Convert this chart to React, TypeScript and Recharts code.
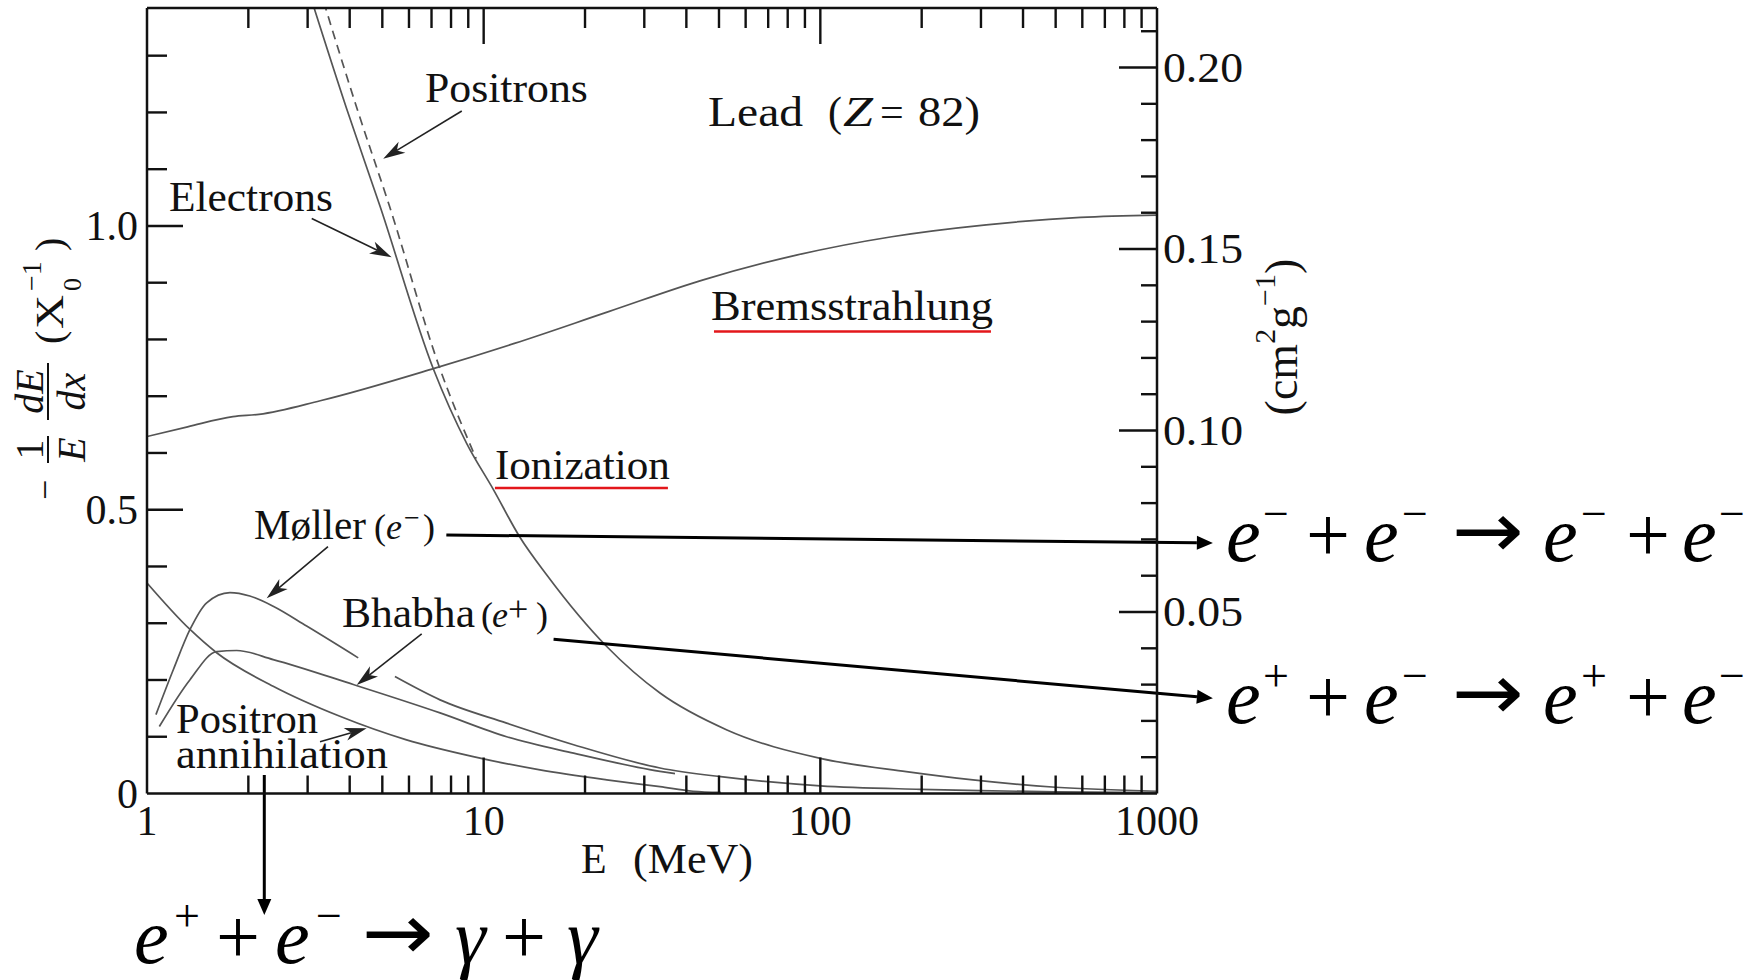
import React from 'react';
import { LineChart, Line, XAxis, YAxis, ReferenceDot, ReferenceLine } from 'recharts';

// ---------------- data (E in MeV, value in X0^-1) ----------------
const ionElectronE = [3.0, 3.92, 4.92, 7.09, 8.9, 10.7, 12.8, 15.4, 23.2, 33.4, 52.8, 100, 180, 284, 500, 1000];
const ionElectronV = [1.42, 1.206, 1.035, 0.748, 0.617, 0.535, 0.452, 0.385, 0.259, 0.177, 0.112, 0.062, 0.0385, 0.024, 0.011, 0.004];

const ionPositronE = [3.25, 4.21, 5.25, 7.42, 9.5];
const ionPositronV = [1.42, 1.206, 1.035, 0.748, 0.59];

const bremE = [1, 1.32, 1.8, 2.15, 3.27, 7.13, 12.34, 23.5, 44.9, 85.5, 163, 311, 593, 1000];
const bremV = [0.629, 0.646, 0.664, 0.668, 0.692, 0.749, 0.793, 0.849, 0.905, 0.949, 0.981, 1.002, 1.015, 1.019];

const mollerE = [1.063, 1.197, 1.342, 1.504, 1.764, 2.02, 2.37, 2.98, 4.24, 4.8, 5.45, 7.42, 11.7, 18.5, 33.4, 50.6, 100, 198, 297, 500, 1000];
const mollerV: (number | null)[] = [0.139, 0.218, 0.289, 0.336, 0.354, 0.348, 0.33, 0.295, 0.239, null, 0.206, 0.165, 0.124, 0.086, 0.045, 0.0296, 0.0135, 0.0074, 0.005, 0.003, 0.0015];

const bhabhaE = [1.088, 1.342, 1.61, 1.846, 2.37, 4.1, 7.42, 11.7, 18.5, 33.4, 37];
const bhabhaV = [0.118, 0.2005, 0.25, 0.252, 0.236, 0.192, 0.142, 0.1, 0.071, 0.039, 0.035];

const annihE = [1, 1.342, 1.61, 2.37, 3.74, 5.9, 9.31, 14.7, 23.2, 33.4, 41.9, 50.6];
const annihV = [0.371, 0.289, 0.248, 0.189, 0.136, 0.0945, 0.065, 0.0415, 0.024, 0.012, 0.004, 0.002];

// axes
const X_DOMAIN: [number, number] = [1, 1000];
const xTicks = [1, 2, 3, 4, 5, 6, 7, 8, 9, 10, 20, 30, 40, 50, 60, 70, 80, 90, 100, 200, 300, 400, 500, 600, 700, 800, 900, 1000];
const LEFT_DOMAIN: [number, number] = [0, 1.384];
const leftTicks = [0, 0.1, 0.2, 0.3, 0.4, 0.5, 0.6, 0.7, 0.8, 0.9, 1.0, 1.1, 1.2, 1.3];
const RIGHT_DOMAIN: [number, number] = [0, 0.2164];
const rightTicks = [0.01, 0.02, 0.03, 0.04, 0.05, 0.06, 0.07, 0.08, 0.09, 0.1, 0.11, 0.12, 0.13, 0.14, 0.15, 0.16, 0.17, 0.18, 0.19, 0.2, 0.21];

type Pt = { E: number; v: number | null };
const zip = (es: number[], vs: (number | null)[]): Pt[] => es.map((E, i) => ({ E, v: vs[i] }));

const electrons = zip(ionElectronE, ionElectronV);
const positrons = zip(ionPositronE, ionPositronV);
const brems = zip(bremE, bremV);
const moller = zip(mollerE, mollerV);
const bhabha = zip(bhabhaE, bhabhaV);
const annihilation = zip(annihE, annihV);

// ---------------- style / layout ----------------
const SERIF = '"Liberation Serif", "Times New Roman", Times, serif';
const ARROW_FONT = '"DejaVu Sans", sans-serif';
const INK = '#111111';
const CURVE = '#555555';
const RED = '#e3171b';
const AXIS_SIZE = 1;
const MARGIN = { top: 8 - AXIS_SIZE, right: 603 - AXIS_SIZE, bottom: 186.5 - AXIS_SIZE, left: 147 - AXIS_SIZE };
const AXIS_W = 2.5;
const TICK_W = 2.4;
const MAJOR = 36;
const MINOR = 18;

const isDecade = (v: number) => Math.abs(Math.log10(v) - Math.round(Math.log10(v))) < 1e-9;

function BottomTick(p: any) {
  const { x, y, payload } = p;
  const v = Number(payload.value);
  const major = isDecade(v);
  const edge = v <= X_DOMAIN[0] || v >= X_DOMAIN[1];
  return (
    <g>
      {!edge && <line x1={x} y1={y} x2={x} y2={y - (major ? MAJOR : MINOR)} stroke={INK} strokeWidth={TICK_W} />}
      {major && (
        <text x={x} y={y + 41.5} textAnchor="middle" fontSize={42} fontFamily={SERIF} fill={INK}>
          {String(v)}
        </text>
      )}
    </g>
  );
}

function TopTick(p: any) {
  const { x, y, payload } = p;
  const v = Number(payload.value);
  const major = isDecade(v);
  const edge = v <= X_DOMAIN[0] || v >= X_DOMAIN[1];
  if (edge) return <g />;
  return <line x1={x} y1={y} x2={x} y2={y + (major ? MAJOR : MINOR + 2)} stroke={INK} strokeWidth={TICK_W} />;
}

function LeftTick(p: any) {
  const { x, y, payload } = p;
  const v = Number(payload.value);
  const major = Math.round(v * 10) % 5 === 0;
  return (
    <g>
      {v > 0 && <line x1={x} y1={y} x2={x + (major ? MAJOR : MINOR + 2)} y2={y} stroke={INK} strokeWidth={TICK_W} />}
      {major && (
        <text x={x - 9} y={y + 14} textAnchor="end" fontSize={42} fontFamily={SERIF} fill={INK}>
          {v === 0 ? '0' : v.toFixed(1)}
        </text>
      )}
    </g>
  );
}

function RightTick(p: any) {
  const { x, y, payload } = p;
  const v = Number(payload.value);
  const major = Math.round(v * 100) % 5 === 0;
  return (
    <g>
      <line x1={x} y1={y} x2={x - (major ? MAJOR + 2 : MINOR - 2)} y2={y} stroke={INK} strokeWidth={TICK_W} />
      {major && (
        <text x={x + 6} y={y + 14} fontSize={42} fontFamily={SERIF} fill={INK} textLength={80} lengthAdjust="spacingAndGlyphs">
          {v.toFixed(2)}
        </text>
      )}
    </g>
  );
}

const vbOr = (p: any, fb: { x: number; y: number; width: number; height: number }) =>
  p && p.viewBox && typeof p.viewBox.x === 'number' ? p.viewBox : fb;

function BottomTitle(p: any) {
  const vb = vbOr(p, { x: 147, y: 793.5, width: 1010, height: 1 });
  return (
    <g fontFamily={SERIF} fill={INK}>
      <text x={vb.x + 434} y={vb.y + 79.5} fontSize={42}>E</text>
      <text x={vb.x + 486} y={vb.y + 79.5} fontSize={42} textLength={120} lengthAdjust="spacingAndGlyphs">(MeV)</text>
    </g>
  );
}

function LeftTitle(p: any) {
  const vb = vbOr(p, { x: 146, y: 8, width: 1, height: 785.5 });
  const ox = vb.x + vb.width - 84;
  const oy = vb.y + 492;
  const f = 40;
  return (
    <g transform={`translate(${ox},${oy}) rotate(-90)`} fontFamily={SERIF} fill={INK}>
      <text x={0} y={-6} fontSize={36}>−</text>
      <line x1={37} x2={64} y1={-15} y2={-15} stroke={INK} strokeWidth={2} />
      <text x={50.5} y={-20} fontSize={f} textAnchor="middle">1</text>
      <text x={50.5} y={22} fontSize={f} textAnchor="middle" fontStyle="italic">E</text>
      <line x1={80} x2={137} y1={-15} y2={-15} stroke={INK} strokeWidth={2} />
      <text x={108.5} y={-20} fontSize={f} textAnchor="middle" fontStyle="italic">dE</text>
      <text x={108.5} y={22} fontSize={f} textAnchor="middle" fontStyle="italic">dx</text>
      <text x={156} y={0} fontSize={f}>(</text>
      <text x={171} y={0} fontSize={f} textLength={34} lengthAdjust="spacingAndGlyphs">X</text>
      <text x={209} y={18} fontSize={26}>0</text>
      <text x={209} y={-22} fontSize={28}>−1</text>
      <text x={249} y={0} fontSize={f}>)</text>
    </g>
  );
}

function RightTitle(p: any) {
  const vb = vbOr(p, { x: 1157, y: 8, width: 1, height: 785.5 });
  const ox = vb.x + 140;
  const oy = vb.y + 329;
  return (
    <g transform={`translate(${ox},${oy}) rotate(-90)`}>
      <text x={0} y={0} textAnchor="middle" fontSize={46} fontFamily={SERIF} fill={INK}>
        (cm
        <tspan fontSize={30} dy={-22}>2</tspan>
        <tspan dy={22}>g</tspan>
        <tspan fontSize={30} dy={-22}>−1</tspan>
        <tspan dy={22}>)</tspan>
      </text>
    </g>
  );
}

// text helper
function T(props: { x: number; y: number; children: React.ReactNode; len?: number; size?: number; italic?: boolean }) {
  const { x, y, children, len, size = 42, italic } = props;
  const extra: any = len ? { textLength: len, lengthAdjust: 'spacingAndGlyphs' } : {};
  return (
    <text x={x} y={y} fontSize={size} fontFamily={SERIF} fill={INK} fontStyle={italic ? 'italic' : 'normal'} {...extra}>
      {children}
    </text>
  );
}

// arrows drawn between two data-space points handed over by ReferenceLine
const arrowShape = (o: { head: number; half: number; w: number; color: string; notch: number }) => (p: any) => {
  const { x1, y1, x2, y2 } = p;
  const dx = x2 - x1;
  const dy = y2 - y1;
  const L = Math.hypot(dx, dy) || 1;
  const ux = dx / L;
  const uy = dy / L;
  const nx = -uy;
  const ny = ux;
  const bx = x2 - ux * o.head;
  const by = y2 - uy * o.head;
  const ix = bx + ux * o.notch;
  const iy = by + uy * o.notch;
  return (
    <g>
      <line x1={x1} y1={y1} x2={ix} y2={iy} stroke={o.color} strokeWidth={o.w} />
      <polygon
        points={`${x2},${y2} ${bx + nx * o.half},${by + ny * o.half} ${ix},${iy} ${bx - nx * o.half},${by - ny * o.half}`}
        fill={o.color}
      />
    </g>
  );
};
const thinArrow = arrowShape({ head: 22, half: 6.5, w: 1.6, color: '#222', notch: 6 });
const thickArrow = arrowShape({ head: 16, half: 7, w: 3, color: '#000', notch: 0 });

// reaction equations (glyph offsets are layout, relative to anchor)
type Glyph = { t: string; dx: number; sup?: boolean; it?: boolean; arrow?: boolean };
const eqMollerGlyphs: Glyph[] = [
  { t: 'e', dx: 0, it: true }, { t: '−', dx: 37, sup: true }, { t: '+', dx: 80 },
  { t: 'e', dx: 138, it: true }, { t: '−', dx: 176, sup: true }, { t: '→', dx: 226, arrow: true },
  { t: 'e', dx: 317, it: true }, { t: '−', dx: 355, sup: true }, { t: '+', dx: 400 },
  { t: 'e', dx: 456, it: true }, { t: '−', dx: 493, sup: true },
];
const eqBhabhaGlyphs: Glyph[] = [
  { t: 'e', dx: 0, it: true }, { t: '+', dx: 37, sup: true }, { t: '+', dx: 80 },
  { t: 'e', dx: 138, it: true }, { t: '−', dx: 176, sup: true }, { t: '→', dx: 226, arrow: true },
  { t: 'e', dx: 317, it: true }, { t: '+', dx: 355, sup: true }, { t: '+', dx: 400 },
  { t: 'e', dx: 456, it: true }, { t: '−', dx: 493, sup: true },
];
const eqAnnihGlyphs: Glyph[] = [
  { t: 'e', dx: 0, it: true }, { t: '+', dx: 40, sup: true }, { t: '+', dx: 82 },
  { t: 'e', dx: 141, it: true }, { t: '−', dx: 182, sup: true }, { t: '→', dx: 228, arrow: true },
  { t: 'γ', dx: 321, it: true }, { t: '+', dx: 368 }, { t: 'γ', dx: 433, it: true },
];

const equationShape = (glyphs: Glyph[]) => (p: any) => (
  <g>
    {glyphs.map((g, i) => {
      if (g.arrow) {
        return (
          <text
            key={i}
            x={p.cx + g.dx}
            y={p.cy - 4}
            fontSize={78}
            fontFamily={ARROW_FONT}
            fill="#000"
            textLength={72}
            lengthAdjust="spacingAndGlyphs"
          >
            {g.t}
          </text>
        );
      }
      return (
        <text
          key={i}
          x={p.cx + g.dx}
          y={p.cy - (g.sup ? 32 : 0)}
          fontSize={g.sup ? 46 : 78}
          fontStyle={g.it ? 'italic' : 'normal'}
          fontFamily={SERIF}
          fill="#000"
        >
          {g.t}
        </text>
      );
    })}
  </g>
);

const curveProps = {
  xAxisId: 'b',
  yAxisId: 'l',
  dataKey: 'v',
  type: 'monotone' as const,
  stroke: CURVE,
  strokeWidth: 1.7,
  dot: false,
  activeDot: false,
  isAnimationActive: false,
  connectNulls: false,
};

const refIds = { xAxisId: 'b', yAxisId: 'l', ifOverflow: 'visible' as const };

export default function App() {
  return (
    <div style={{ position: 'absolute', left: 0, top: 0, width: 1760, height: 980, background: '#fff' }}>
      <LineChart width={1760} height={980} margin={MARGIN}>
        <XAxis
          xAxisId="b"
          dataKey="E"
          type="number"
          scale="log"
          domain={X_DOMAIN}
          ticks={xTicks}
          interval={0}
          allowDataOverflow
          height={AXIS_SIZE}
          tickSize={0}
          tickMargin={0}
          tickLine={false}
          tick={BottomTick}
          axisLine={{ stroke: INK, strokeWidth: AXIS_W }}
          label={{ content: BottomTitle }}
        />
        <XAxis
          xAxisId="t"
          orientation="top"
          dataKey="E"
          type="number"
          scale="log"
          domain={X_DOMAIN}
          ticks={xTicks}
          interval={0}
          allowDataOverflow
          height={AXIS_SIZE}
          tickSize={0}
          tickMargin={0}
          tickLine={false}
          tick={TopTick}
          axisLine={{ stroke: INK, strokeWidth: AXIS_W }}
        />
        <YAxis
          yAxisId="l"
          type="number"
          domain={LEFT_DOMAIN}
          ticks={leftTicks}
          interval={0}
          allowDataOverflow
          width={AXIS_SIZE}
          tickSize={0}
          tickMargin={0}
          tickLine={false}
          tick={LeftTick}
          axisLine={{ stroke: INK, strokeWidth: AXIS_W }}
          label={{ content: LeftTitle }}
        />
        <YAxis
          yAxisId="r"
          orientation="right"
          type="number"
          domain={RIGHT_DOMAIN}
          ticks={rightTicks}
          interval={0}
          allowDataOverflow
          width={AXIS_SIZE}
          tickSize={0}
          tickMargin={0}
          tickLine={false}
          tick={RightTick}
          axisLine={{ stroke: INK, strokeWidth: AXIS_W }}
          label={{ content: RightTitle }}
        />

        <Line {...curveProps} data={brems} name="Bremsstrahlung" />
        <Line {...curveProps} data={electrons} name="Ionization (electrons)" />
        <Line {...curveProps} data={positrons} name="Ionization (positrons)" strokeDasharray="9 6" />
        <Line {...curveProps} data={moller} name="Møller" />
        <Line {...curveProps} data={bhabha} name="Bhabha" />
        <Line {...curveProps} data={annihilation} name="Positron annihilation" />

        {/* labels inside the frame */}
        <ReferenceDot {...refIds} x={6.69} y={1.2185} r={0} shape={(p: any) => <T x={p.cx} y={p.cy} len={163}>Positrons</T>} />
        <ReferenceDot
          {...refIds}
          x={46.4}
          y={1.1753}
          r={0}
          shape={(p: any) => (
            <g>
              <T x={p.cx} y={p.cy} len={95}>Lead</T>
              <T x={p.cx + 120} y={p.cy}>(</T>
              <T x={p.cx + 135} y={p.cy} italic len={30}>Z</T>
              <T x={p.cx + 172} y={p.cy}>=</T>
              <T x={p.cx + 210} y={p.cy} len={62}>82)</T>
            </g>
          )}
        />
        <ReferenceDot {...refIds} x={1.162} y={1.0264} r={0} shape={(p: any) => <T x={p.cx} y={p.cy} len={164}>Electrons</T>} />
        <ReferenceDot
          {...refIds}
          x={47.33}
          y={0.8335}
          r={0}
          shape={(p: any) => (
            <g>
              <T x={p.cx} y={p.cy} len={282}>Bremsstrahlung</T>
              <line x1={p.cx + 3} x2={p.cx + 280} y1={p.cy + 11} y2={p.cy + 11} stroke={RED} strokeWidth={2.6} />
            </g>
          )}
        />
        <ReferenceDot
          {...refIds}
          x={10.8}
          y={0.5533}
          r={0}
          shape={(p: any) => (
            <g>
              <T x={p.cx} y={p.cy} len={175}>Ionization</T>
              <line x1={p.cx} x2={p.cx + 173} y1={p.cy + 8.5} y2={p.cy + 8.5} stroke={RED} strokeWidth={2.6} />
            </g>
          )}
        />
        <ReferenceDot
          {...refIds}
          x={2.079}
          y={0.4479}
          r={0}
          shape={(p: any) => (
            <g>
              <T x={p.cx} y={p.cy} len={112}>Møller</T>
              <T x={p.cx + 120} y={p.cy} size={36}>(</T>
              <T x={p.cx + 132} y={p.cy} size={36} italic>e</T>
              <T x={p.cx + 150} y={p.cy - 12} size={28}>−</T>
              <T x={p.cx + 169} y={p.cy} size={36}>)</T>
            </g>
          )}
        />
        <ReferenceDot
          {...refIds}
          x={3.7945}
          y={0.2939}
          r={0}
          shape={(p: any) => (
            <g>
              <T x={p.cx} y={p.cy} len={133}>Bhabha</T>
              <T x={p.cx + 139} y={p.cy} size={36}>(</T>
              <T x={p.cx + 150} y={p.cy} size={36} italic>e</T>
              <T x={p.cx + 166} y={p.cy - 6} size={36}>+</T>
              <T x={p.cx + 194} y={p.cy} size={36}>)</T>
            </g>
          )}
        />
        <ReferenceDot {...refIds} x={1.2193} y={0.1061} r={0} shape={(p: any) => <T x={p.cx} y={p.cy} len={142}>Positron</T>} />
        <ReferenceDot {...refIds} x={1.2193} y={0.0444} r={0} shape={(p: any) => <T x={p.cx} y={p.cy} len={212}>annihilation</T>} />

        {/* pointer arrows of the figure */}
        <ReferenceLine {...refIds} segment={[{ x: 8.61, y: 1.2026 }, { x: 5.03, y: 1.1185 }]} shape={thinArrow} />
        <ReferenceLine {...refIds} segment={[{ x: 3.085, y: 1.0132 }, { x: 5.33, y: 0.9447 }]} shape={thinArrow} />
        <ReferenceLine {...refIds} segment={[{ x: 3.448, y: 0.4349 }, { x: 2.267, y: 0.344 }]} shape={thinArrow} />
        <ReferenceLine {...refIds} segment={[{ x: 6.545, y: 0.2811 }, { x: 4.196, y: 0.1912 }]} shape={thinArrow} />
        <ReferenceLine {...refIds} segment={[{ x: 3.265, y: 0.0913 }, { x: 4.493, y: 0.1149 }]} shape={thinArrow} />

        {/* added reaction arrows and equations */}
        <ReferenceLine {...refIds} segment={[{ x: 7.747, y: 0.4555 }, { x: 1465.5, y: 0.4414 }]} shape={thickArrow} />
        <ReferenceLine {...refIds} segment={[{ x: 16.13, y: 0.2717 }, { x: 1465.5, y: 0.1678 }]} shape={thickArrow} />
        <ReferenceLine {...refIds} segment={[{ x: 2.2305, y: 0.0326 }, { x: 2.2305, y: -0.2141 }]} shape={thickArrow} />
        <ReferenceDot {...refIds} x={1602} y={0.4088} r={0} shape={equationShape(eqMollerGlyphs)} />
        <ReferenceDot {...refIds} x={1602} y={0.1242} r={0} shape={equationShape(eqBhabhaGlyphs)} />
        <ReferenceDot {...refIds} x={0.9149} y={-0.2987} r={0} shape={equationShape(eqAnnihGlyphs)} />
      </LineChart>
    </div>
  );
}
